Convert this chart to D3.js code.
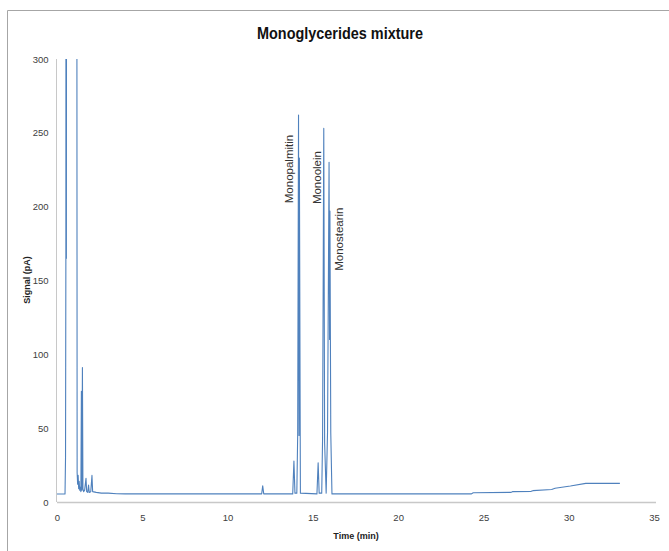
<!DOCTYPE html>
<html><head><meta charset="utf-8">
<script src="https://cdn.jsdelivr.net/npm/d3@7"></script>
<style>body{margin:0;background:#fff;}svg{display:block;}</style>
</head><body>
<svg id="c" width="669" height="551"></svg>
<script>
const timeMin = [0.00,0.47,0.50,0.52,0.53,0.55,0.57,1.15,1.18,1.21,1.24,1.27,1.30,1.33,1.36,1.40,1.43,1.46,1.49,1.52,1.56,1.62,1.70,1.74,1.80,1.85,1.89,1.98,2.05,2.09,2.30,2.60,3.00,3.50,4.00,12.00,12.06,12.12,13.82,13.89,13.95,14.06,14.11,14.16,14.19,14.21,14.27,15.24,15.31,15.37,15.52,15.57,15.64,15.69,15.78,15.86,15.95,15.98,16.00,16.05,16.12,24.30,24.40,26.60,26.70,27.80,27.90,29.00,29.20,30.10,31.00,33.00];
const signalPA = [5.4,5.4,30,165,600,165,700,700,20,12,18,9,14,8,10,7,75,8,91,9,7,8,16,7,6.5,11.5,6.5,7,18,7,6.5,6,6,5.6,5.5,5.5,11,5.5,5.5,27.7,6,6,45,262,45,233,6,5.5,26.5,6,6,43,253,40,6,47,230,110,197,47,5.5,5.5,6.3,6.5,7,7.2,7.7,8.5,9.3,10.8,12.6,12.6];
const xTicks = [0,5,10,15,20,25,30,35];
const yTicks = [0,50,100,150,200,250,300];
const peakNames = ["Monopalmitin","Monoolein","Monostearin"];
const peakLabelTime = [13.62,15.22,16.55];
const peakLabelSignal = [225.5,219.7,178];
const titleText = "Monoglycerides mixture";
const xTitle = "Time (min)";
const yTitle = "Signal (pA)";

const svg = d3.select("#c");
const x = d3.scaleLinear().domain([0,35]).range([57,654]);
const y = d3.scaleLinear().domain([0,300]).range([502,59]);

// outer chart border
svg.append("path").attr("d","M7.5,551V10.5H669").attr("fill","none").attr("stroke","#a6a6a6").attr("stroke-width",1);

svg.append("text").attr("x",340).attr("y",39).attr("text-anchor","middle")
  .attr("font-family","'Liberation Sans', Arial, sans-serif").attr("font-weight","bold")
  .attr("font-size",17).attr("fill","#111")
  .attr("textLength",166).attr("lengthAdjust","spacingAndGlyphs").text(titleText);

svg.append("defs").append("clipPath").attr("id","pc").append("rect")
  .attr("x",50).attr("y",59).attr("width",619).attr("height",450);

// axes
const xAxis = svg.append("g").attr("transform","translate(0,502.5)")
  .call(d3.axisBottom(x).tickValues(xTicks).tickSize(0).tickPadding(12).tickFormat(d3.format("d")));
xAxis.select(".domain").attr("stroke","#c8c8c8").attr("stroke-width",1.5).attr("d","M57,0H656");
const yAxis = svg.append("g").attr("transform","translate(56.5,0)")
  .call(d3.axisLeft(y).tickValues(yTicks).tickSize(0).tickPadding(8).tickFormat(d3.format("d")));
yAxis.select(".domain").attr("stroke","#c8c8c8").attr("stroke-width",1).attr("d","M0,59V502");
svg.selectAll(".tick text").attr("font-family","'Liberation Sans', Arial, sans-serif")
  .attr("font-size",9.5).attr("fill","#404040");

svg.append("text").attr("x",356).attr("y",539).attr("text-anchor","middle")
  .attr("font-family","'Liberation Sans', Arial, sans-serif").attr("font-weight","bold")
  .attr("font-size",9).attr("fill","#222").text(xTitle);
svg.append("text").attr("transform","translate(30,280) rotate(-90)").attr("text-anchor","middle")
  .attr("font-family","'Liberation Sans', Arial, sans-serif").attr("font-weight","bold")
  .attr("font-size",9).attr("fill","#222").text(yTitle);

// chromatogram
const pts = timeMin.map((t,i)=>[t,signalPA[i]]);
svg.append("path").datum(pts).attr("clip-path","url(#pc)")
  .attr("fill","none").attr("stroke","#4f81bd").attr("stroke-width",1.1).attr("stroke-linejoin","round")
  .attr("d", d3.line().x(d=>x(d[0])).y(d=>y(d[1])));

// peak labels
peakNames.forEach((n,i)=>{
  svg.append("text").attr("transform",`translate(${x(peakLabelTime[i])},${y(peakLabelSignal[i])}) rotate(-90)`)
    .attr("text-anchor","middle").attr("dominant-baseline","central")
    .attr("font-family","'Liberation Sans', Arial, sans-serif").attr("font-size",11.5).attr("fill","#333").text(n);
});
</script>
</body></html>
